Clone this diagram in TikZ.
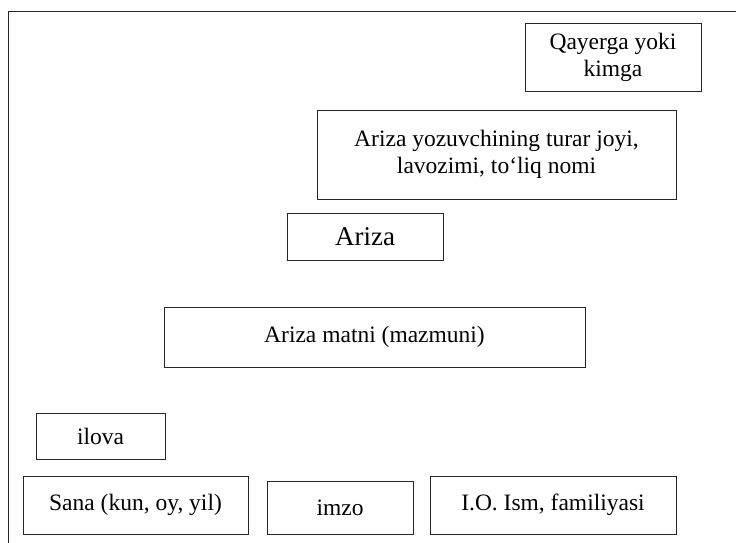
\documentclass[tikz,border=0pt]{standalone}
\usepackage{fontspec}
\setmainfont{Liberation Serif}
\begin{document}
\begin{tikzpicture}[x=1pt,y=-1pt,
  blk/.style={draw=black!85,line width=1pt,inner sep=0pt,align=center,font=\fontsize{23.5}{27}\selectfont}]
\useasboundingbox (0,0) rectangle (736,542);
\draw[black!85,line width=1pt] (8,548) -- (8,11) -- (742,11);

\node[blk,minimum width=176pt,minimum height=68pt] (kimga) at (613,57) {Qayerga yoki\\kimga};
\node[blk,minimum width=359pt,minimum height=89pt] (yozuvchi) at (496.5,154.5) {Ariza yozuvchining turar joyi,\\lavozimi, to‘liq nomi};
\node[blk,minimum width=156pt,minimum height=47pt,font=\fontsize{27}{30}\selectfont] (ariza) at (365,236.5) {Ariza};
\node[blk,minimum width=421pt,minimum height=60pt] (matn) at (374.5,337) {Ariza matni (mazmuni)};

\node[blk,minimum width=129pt,minimum height=46pt] (ilova) at (100.5,436) {ilova};
\node[blk,minimum width=225pt,minimum height=58pt] (sana) at (135.5,505) {Sana (kun, oy, yil)};
\node[blk,minimum width=146pt,minimum height=53pt] (imzo) at (340,507.5) {imzo};
\node[blk,minimum width=246pt,minimum height=58pt] (ism) at (553,505) {I.O. Ism, familiyasi};
\end{tikzpicture}
\end{document}
